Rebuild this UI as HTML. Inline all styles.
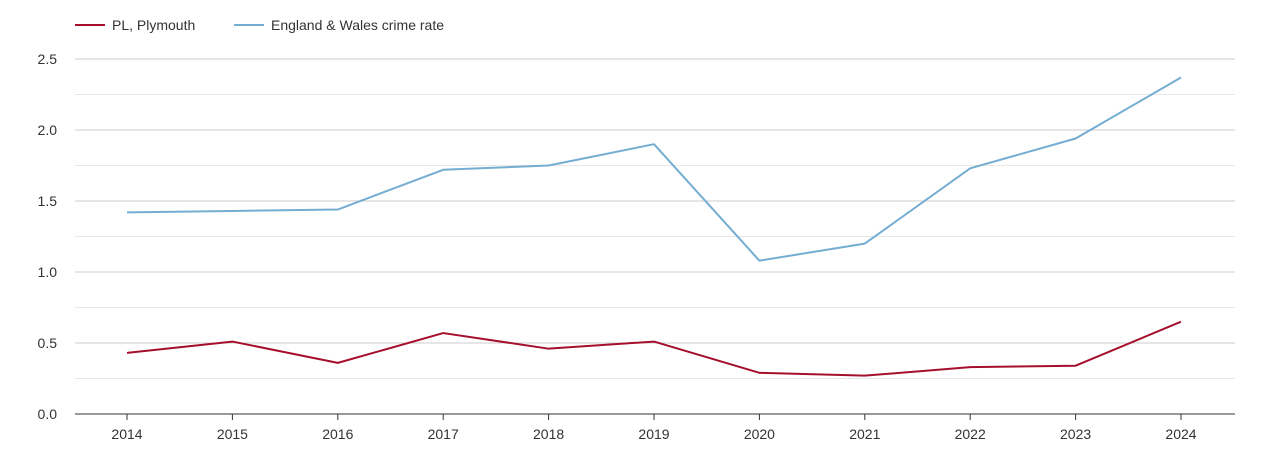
<!DOCTYPE html>
<html><head><meta charset="utf-8"><style>
body{margin:0;background:#fff;}
svg{display:block;font-family:"Liberation Sans",sans-serif;}
</style></head><body>
<svg id="chart" width="1270" height="450">
<g>
<line x1="75" y1="25" x2="105" y2="25" stroke="#a50f2d" stroke-width="2"/>
<text x="112" y="30" font-size="14" fill="#333">PL, Plymouth</text>
<line x1="234" y1="25" x2="264" y2="25" stroke="#74add1" stroke-width="2"/>
<text x="271" y="30" font-size="14" fill="#333">England &amp; Wales crime rate</text>
</g>
<g id="grid"></g><g id="axes"></g><g id="series"></g>
</svg>
<script>
const years=[2014,2015,2016,2017,2018,2019,2020,2021,2022,2023,2024];
const plymouth=[0.43,0.51,0.36,0.57,0.46,0.51,0.29,0.27,0.33,0.34,0.65];
const englandWales=[1.42,1.43,1.44,1.72,1.75,1.90,1.08,1.20,1.73,1.94,2.37];
const yTicks=["0.0","0.5","1.0","1.5","2.0","2.5"];
const NS="http://www.w3.org/2000/svg";
const x0=127,x1=1181,yBase=414,yTop=59,yMax=2.5;
function xs(i){return x0+(x1-x0)*i/(years.length-1);}
function ys(v){return yBase-(yBase-yTop)*v/yMax;}
function mk(tag,attrs,parent){const e=document.createElementNS(NS,tag);for(const k in attrs)e.setAttribute(k,attrs[k]);parent.appendChild(e);return e;}
const grid=document.getElementById('grid'),axes=document.getElementById('axes'),series=document.getElementById('series');
for(let v=0.25;v<=yMax+0.001;v+=0.25){
 const major=Math.abs(v*2-Math.round(v*2))<0.01;
 const l=mk('line',{x1:75,x2:1235,y1:ys(v),y2:ys(v),stroke:major?'#ccc':'#e8e8e8','stroke-width':1},grid);
 
 
}
yTicks.forEach(t=>{
 const tx=mk('text',{x:57,y:ys(parseFloat(t))+5,'text-anchor':'end','font-size':14,fill:'#333'},axes);
 tx.textContent=t;
 
 
});
const ax=mk('line',{x1:75,x2:1235,y1:yBase,y2:yBase,stroke:'#333','stroke-width':1},axes);


years.forEach((y,i)=>{
 const tk=mk('line',{x1:xs(i),x2:xs(i),y1:yBase,y2:yBase+6,stroke:'#333'},axes);
 
 
 const tx=mk('text',{x:xs(i),y:439,'text-anchor':'middle','font-size':14,fill:'#333'},axes);
 tx.textContent=y;
 
 
});
function line(vals,color,name){
 const p=mk('polyline',{points:vals.map((v,i)=>xs(i)+','+ys(v)).join(' '),fill:'none',stroke:color,'stroke-width':2,'stroke-linejoin':'round'},series);
 
 
}
line(englandWales,'#74add1','england-wales-line');
line(plymouth,'#a50f2d','plymouth-line');
</script>
</body></html>
